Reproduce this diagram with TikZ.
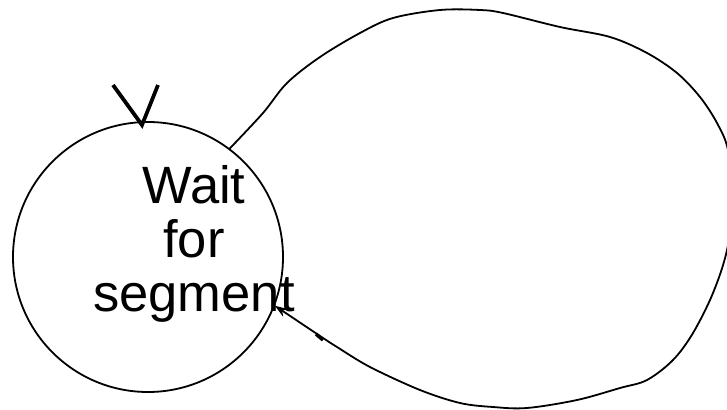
\documentclass[tikz,border=0pt]{standalone}
\usepackage{fontspec}
\setmainfont{Liberation Sans}
\usetikzlibrary{arrows.meta}
\begin{document}
\begin{tikzpicture}[x=1pt,y=-1pt,
  state/.style={draw,circle,line width=1.8pt,minimum size=270pt,inner sep=0pt},
  statetext/.style={inner sep=0pt,align=center,font=\fontsize{52.5}{54}\selectfont},
  edge/.style={line width=1.8pt},
  initv/.style={line width=3.8pt}]
\useasboundingbox (0,0) rectangle (727,409);
\node[state] (s) at (148,257) {};
\node[statetext] (txt) at (194,243.5) {Wait\\for\\segment};
\coordinate (vl) at (113,85);
\coordinate (vr) at (158,85);
\coordinate (vtip) at (142,125);
\draw[initv] (vl) -- (vtip) -- (vr);
\draw[edge,-{Stealth[length=13pt,width=9pt]}] plot[smooth,tension=0.55] coordinates {
  (s.53) (263,113) (287,83) (320,57) (360,33) (393,18) (440,10) (480,10) (503,13)
  (560,27) (610,37) (647,53) (677,73) (700,97) (717,123) (728,150) (733,200)
  (727,250) (713,293) (693,333) (673,360) (647,380) (620,388) (577,400) (527,408)
  (493,407) (460,403) (420,390) (370,367) (337,347) (320,336) (s.-21)};
\coordinate (t1) at (316,334);
\coordinate (t2) at (323,340);
\draw[line width=3.5pt] (t1) -- (t2);
\end{tikzpicture}
\end{document}
